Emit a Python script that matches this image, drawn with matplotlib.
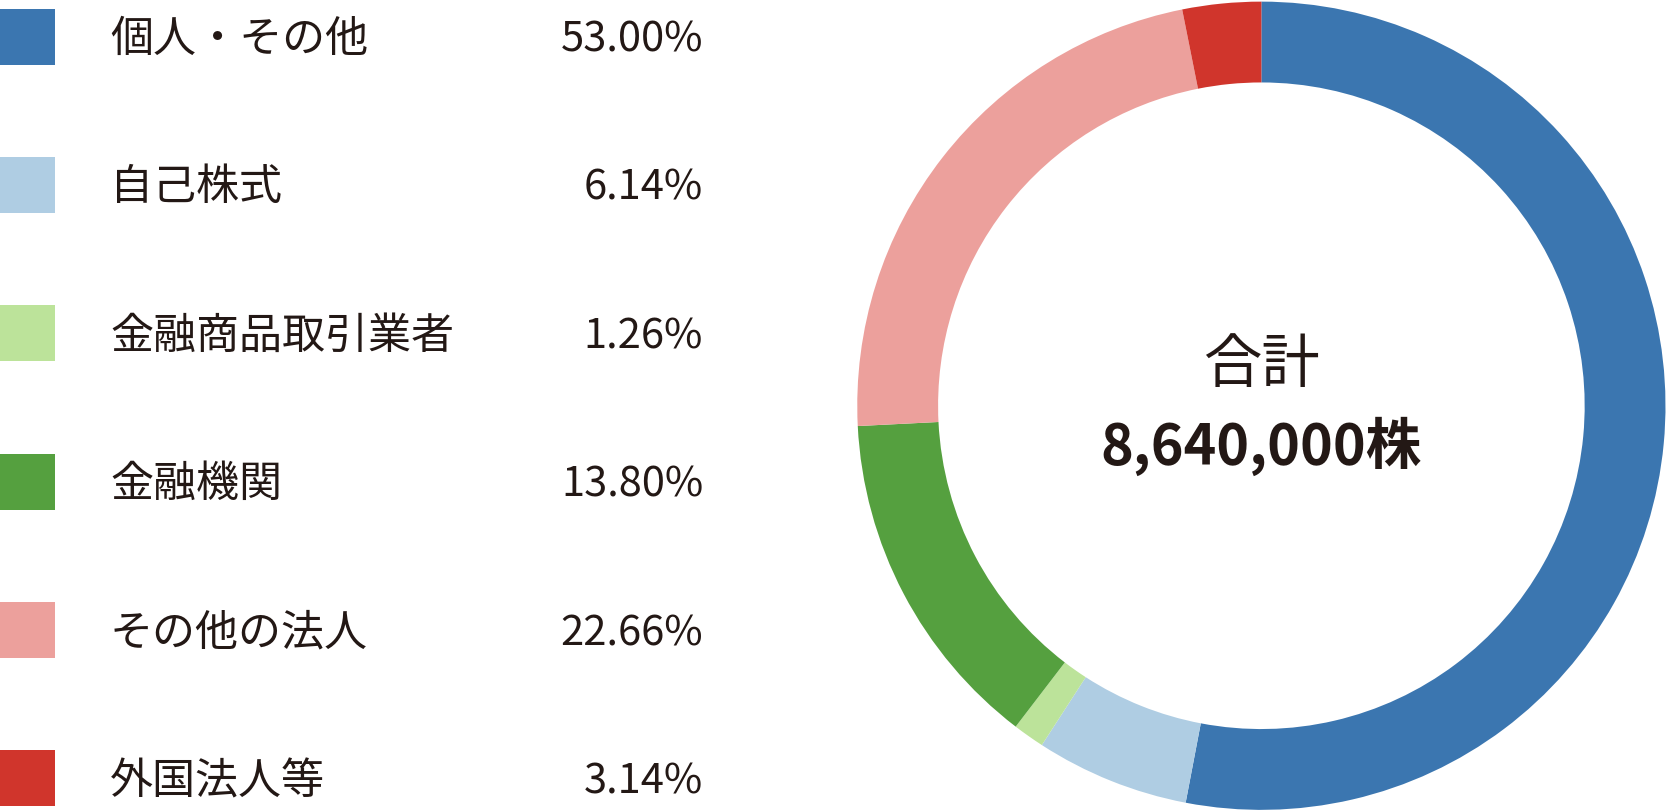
import matplotlib
matplotlib.use('Agg')
import matplotlib.pyplot as plt
from matplotlib.patches import Rectangle

plt.rcParams['font.family'] = ['Noto Sans CJK JP', 'DejaVu Sans']

labels = ["個人・その他", "自己株式", "金融商品取引業者", "金融機関", "その他の法人", "外国法人等"]
shares = [53.00, 6.14, 1.26, 13.80, 22.66, 3.14]
colors = ["#3b76b0", "#afcde3", "#bce39a", "#55a03f", "#eca09c", "#d0352c"]
total_label = "8,640,000株"

W, H = 1669, 812
fig = plt.figure(figsize=(16.695, 8.125), dpi=100)

# legend drawn in pixel coordinates
lax = fig.add_axes([0, 0, 1, 1])
lax.set_xlim(0, W)
lax.set_ylim(H, 0)
lax.axis('off')
row_y0 = 37
row_step = 148.3
for i, (lab, val, col) in enumerate(zip(labels, shares, colors)):
    y = row_y0 + i * row_step
    lax.add_patch(Rectangle((0, y - 28), 55, 56, color=col, lw=0))
    lax.text(110, y + 3, lab, fontsize=31, va='center', ha='left', color='#231815')
    lax.text(703, y + 3, "%.2f%%" % val, fontsize=30, va='center', ha='right', color='#231815')

# donut
cx, cy, r = 1261, 406, 404
ax = fig.add_axes([(cx - r) / W, (H - cy - r) / H, 2 * r / W, 2 * r / H])
ax.pie(shares, colors=colors, startangle=90, counterclock=False, radius=1,
       wedgeprops=dict(width=0.2, linewidth=0))
ax.set_xlim(-1, 1)
ax.set_ylim(-1, 1)
ax.set_aspect('equal')
ax.axis('off')
ax.text(0, 0.1, "合計", fontsize=42, ha='center', va='center', color='#231815')
ax.text(0, -0.1, total_label, fontsize=40, ha='center', va='center',
        fontweight='bold', color='#231815')

fig.savefig("out.png", dpi=100)
